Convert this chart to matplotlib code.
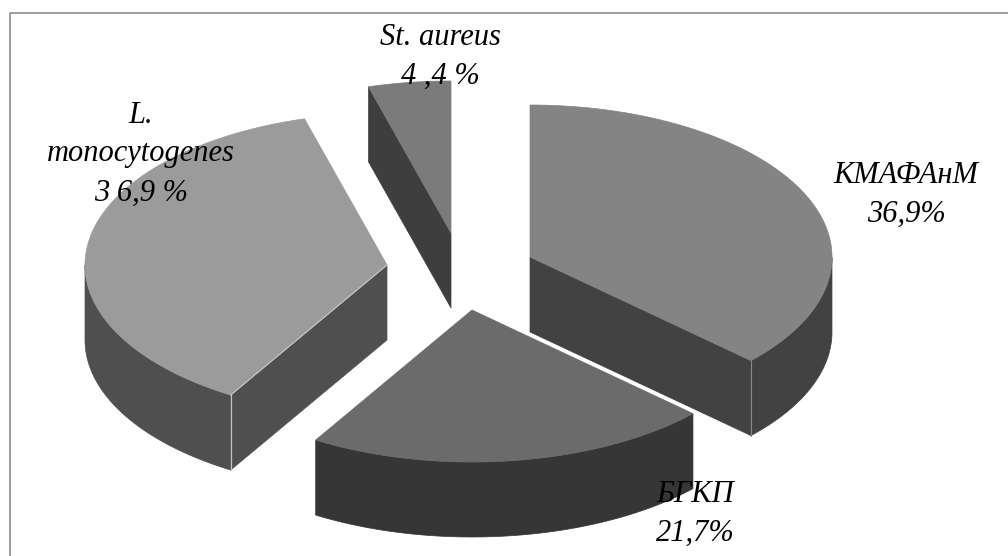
import numpy as np
import matplotlib
matplotlib.use('Agg')
import matplotlib.pyplot as plt
from matplotlib.patches import Polygon

# share of each group, percent, clockwise from 12 o'clock
names = ['КМАФАнМ', 'БГКП', 'L. monocytogenes', 'St. aureus']
values = [36.9, 21.7, 36.9, 4.4]
label_text = ['КМАФАнМ\n36,9%', 'БГКП\n21,7%', 'L.\nmonocytogenes\n3 6,9 %', 'St. aureus\n4 ,4 %']

top_colors = ['#848484', '#6b6b6b', '#9b9b9b', '#7b7b7b']
side_colors = ['#424242', '#363636', '#4f4f4f', '#3e3e3e']
# pie centre of each exploded slice
centres = [(530, 257), (472, 310), (387, 265), (451, 233)]
label_pos = [(906, 195), (695, 514), (141, 154), (440, 57)]

RX, RY = 302, 152
DEPTH = 75

fig = plt.figure(figsize=(10.08, 5.56), dpi=100)
ax = fig.add_axes([0, 0, 1, 1])
ax.set_xlim(0, 1008)
ax.set_ylim(556, 0)
ax.axis('off')

# frame runs along the top and left only
ax.plot([10, 10, 1008], [556, 13, 13], color='#8c8c8c', lw=1.2, zorder=1)


def rim(cx, cy, a0, a1):
    t = np.radians(np.linspace(a0, a1, 200))
    return cx + RX * np.sin(t), cy - RY * np.cos(t)


def wall(xs, ys, color):
    pts = list(zip(xs, ys)) + list(zip(xs[::-1], [y + DEPTH for y in ys[::-1]]))
    ax.add_patch(Polygon(pts, closed=True, fc=color, ec=color, lw=0.5, zorder=2))


total = sum(values)
start = 0
for i in range(len(values)):
    end = start + values[i] / total * 360
    cx, cy = centres[i]
    xs, ys = rim(cx, cy, start, end)
    # outer wall only where the rim faces the viewer
    t = np.linspace(start, end, 200)
    vis = (t > 90) & (t < 270)
    if vis.any():
        wall(xs[vis], ys[vis], side_colors[i])
    # cut faces turned towards the viewer
    if i == 0:
        wall(np.array([cx, xs[-1]]), np.array([cy, ys[-1]]), side_colors[i])
    if i == 2:
        wall(np.array([cx, xs[0]]), np.array([cy, ys[0]]), side_colors[i])
    if i == 3:
        wall(np.array([xs[0], cx]), np.array([ys[0], cy]), side_colors[i])
    pts = [(cx, cy)] + list(zip(xs, ys))
    ax.add_patch(Polygon(pts, closed=True, fc=top_colors[i], ec=top_colors[i], lw=0.5, zorder=3))
    # pale highlight on the front corner
    if i == 0:
        ax.plot([xs[-1], xs[-1]], [ys[-1], ys[-1] + DEPTH], color='#8a8a8a', lw=0.8, zorder=4)
    if i == 2:
        ax.plot([xs[0], xs[0]], [ys[0], ys[0] + DEPTH], color='#c4c4c4', lw=0.9, zorder=4)
        ax.plot([xs[0], cx], [ys[0], cy], color='#d0d0d0', lw=0.7, zorder=4)
    start = end

for i in range(len(values)):
    ax.text(label_pos[i][0], label_pos[i][1], label_text[i], family='Liberation Serif', style='italic',
            fontsize=22, ha='center', va='center', linespacing=1.45, color='black', zorder=6)

fig.savefig('out.png', dpi=100)
